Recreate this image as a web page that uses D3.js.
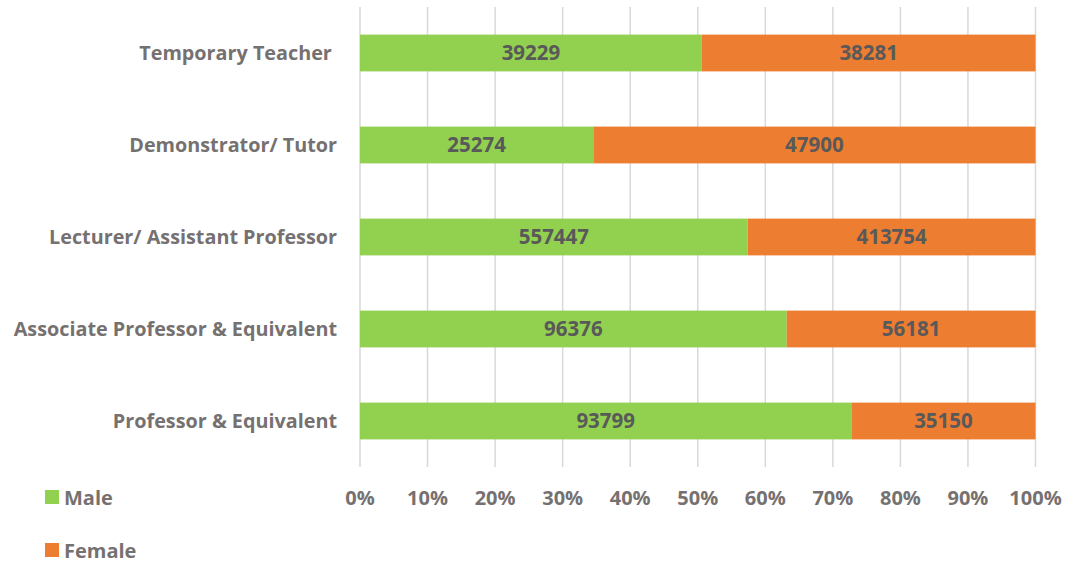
<!DOCTYPE html>
<html>
<head>
<meta charset="utf-8">
<script src="https://cdn.jsdelivr.net/npm/d3@7"></script>
<style>
  body { margin: 0; background: #fff; }
  text { font-family: "Open Sans", "Noto Sans", sans-serif; font-weight: bold; white-space: pre; }
</style>
</head>
<body>
<svg id="chart"></svg>
<script>
// data
var categories = ["Temporary Teacher ", "Demonstrator/ Tutor", "Lecturer/ Assistant Professor", "Associate Professor & Equivalent", "Professor & Equivalent"]
var male = [39229, 25274, 557447, 96376, 93799]
var female = [38281, 47900, 413754, 56181, 35150]
var seriesNames = ["Male", "Female"]
var ticks = [0, 0.1, 0.2, 0.3, 0.4, 0.5, 0.6, 0.7, 0.8, 0.9, 1]

var width = 1071
var height = 563
var colors = ["#92d050", "#ed7d31"]

var svg = d3.select("#chart").attr("width", width).attr("height", height)

var x = d3.scaleLinear().domain([0, 1]).range([360, 1035.5])
var y = d3.scaleBand().domain(categories).range([7, 467]).paddingInner(0.6).paddingOuter(0.3)

// gridlines
svg.append("g")
  .selectAll("line")
  .data(ticks)
  .enter()
  .append("line")
  .attr("x1", d => x(d)).attr("x2", d => x(d))
  .attr("y1", 7).attr("y2", 467)
  .attr("stroke", "#d9d9d9")
  .attr("stroke-width", 1.5)

// rows
var rows = categories.map(function(c, i) {
  var t = male[i] + female[i]
  return [
    {cat: c, s: 0, x0: 0, x1: male[i] / t, v: male[i]},
    {cat: c, s: 1, x0: male[i] / t, x1: 1, v: female[i]}
  ]
}).flat()

svg.append("g")
  .selectAll("rect")
  .data(rows)
  .enter()
  .append("rect")
  .attr("x", d => x(d.x0))
  .attr("width", d => x(d.x1) - x(d.x0))
  .attr("y", d => y(d.cat))
  .attr("height", y.bandwidth())
  .attr("fill", d => colors[d.s])

svg.append("g")
  .selectAll("text")
  .data(rows)
  .enter()
  .append("text")
  .attr("x", d => (x(d.x0) + x(d.x1)) / 2)
  .attr("y", d => y(d.cat) + y.bandwidth() / 2)
  .attr("dy", "0.36em")
  .attr("text-anchor", "middle")
  .attr("font-size", 20.5)
  .attr("fill", "#595959")
  .text(d => d.v)

// category labels
svg.append("g")
  .selectAll("text")
  .data(categories)
  .enter()
  .append("text")
  .attr("x", 337)
  .attr("y", d => y(d) + y.bandwidth() / 2)
  .attr("dy", "0.36em")
  .attr("text-anchor", "end")
  .attr("font-size", 19.8)
  .attr("fill", "#767171")
  .text(d => d)

// x axis labels
var fmt = d3.format(".0%")
svg.append("g")
  .selectAll("text")
  .data(ticks)
  .enter()
  .append("text")
  .attr("x", d => x(d))
  .attr("y", 505)
  .attr("text-anchor", "middle")
  .attr("font-size", 20)
  .attr("fill", "#767171")
  .text(d => fmt(d))

// legend
var leg = svg.append("g")
  .selectAll("g")
  .data(seriesNames)
  .enter()
  .append("g")
  .attr("transform", (d, i) => "translate(45," + (490 + i * 53) + ")")
leg.append("rect").attr("width", 14).attr("height", 14).attr("fill", (d, i) => colors[i])
leg.append("text").attr("x", 19).attr("y", 14.5).attr("font-size", 20).attr("fill", "#767171").text(d => d)
</script>
</body>
</html>
